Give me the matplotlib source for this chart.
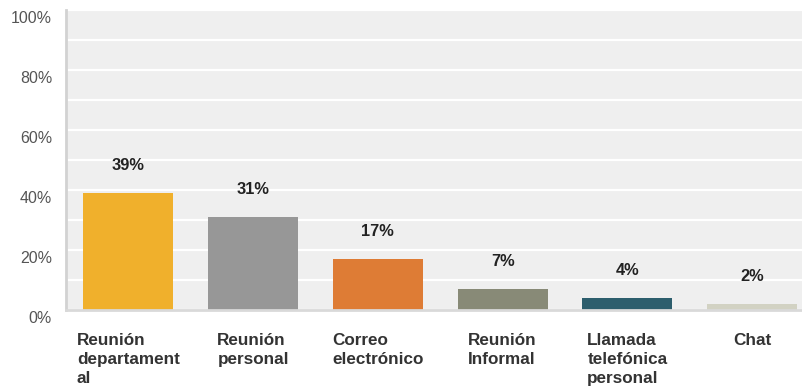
import matplotlib
matplotlib.use('Agg')
import matplotlib.pyplot as plt
from matplotlib.ticker import MultipleLocator, FixedLocator
from matplotlib.transforms import ScaledTranslation

# canales de comunicacion y porcentaje de uso
categorias = ['Reunión\ndepartament\nal', 'Reunión\npersonal', 'Correo\nelectrónico',
              'Reunión\nInformal', 'Llamada\ntelefónica\npersonal', 'Chat']
valores = [39, 31, 17, 7, 4, 2]
colores = ['#F0B02C', '#979797', '#DE7C35', '#888A77', '#2D5E6D', '#D2D2C3']
yticks = [0, 20, 40, 60, 80, 100]

plt.rcParams['font.family'] = ['Liberation Sans', 'DejaVu Sans']

fig = plt.figure(figsize=(8.02, 3.87), dpi=100)
ax = fig.add_axes([66 / 802, 77 / 387, 736 / 802, 300 / 387])
ax.set_facecolor('#EFEFEF')

x = range(len(valores))
ax.bar(x, valores, width=0.72, color=colores, zorder=3)

ax.set_xlim(-0.5, 5.4)
ax.set_ylim(0, 100)

# lineas de cuadricula cada 10%
ax.yaxis.set_minor_locator(MultipleLocator(10))
ax.yaxis.set_major_locator(FixedLocator(yticks))
ax.set_yticklabels(['%d%%' % t for t in yticks])
ax.grid(axis='y', which='both', color='white', linewidth=1.6, zorder=1)
ax.tick_params(axis='y', which='both', length=0, pad=10, labelsize=11.5, labelcolor='#555555')
ax.tick_params(axis='x', length=0, labelbottom=False)
off = ScaledTranslation(0, -7 / 100, fig.dpi_scale_trans)
for lab in ax.get_yticklabels():
    lab.set_transform(lab.get_transform() + off)

for s in ['top', 'right']:
    ax.spines[s].set_visible(False)
ax.spines['left'].set_color('#D2D2D2')
ax.spines['left'].set_linewidth(2)
ax.spines['bottom'].set_color('#D9D9D9')
ax.spines['bottom'].set_linewidth(2)
ax.spines['bottom'].set_zorder(4)

# etiquetas de valor sobre cada barra
for i, v in enumerate(valores):
    ax.annotate('%d%%' % v, xy=(i, v), xytext=(0, 20), textcoords='offset points',
                ha='center', va='center', fontsize=11.8, fontweight='bold', color='#222222')

# nombres de categoria debajo del eje
for i, c in enumerate(categorias):
    ax.annotate(c, xy=(i, 0), xycoords=('data', 'axes fraction'), xytext=(0, -16.5),
                textcoords='offset points', ha='center', va='top', multialignment='left',
                fontsize=12.3, fontweight='bold', color='#333333', linespacing=1.32,
                annotation_clip=False)

fig.savefig('out.png', dpi=100)
